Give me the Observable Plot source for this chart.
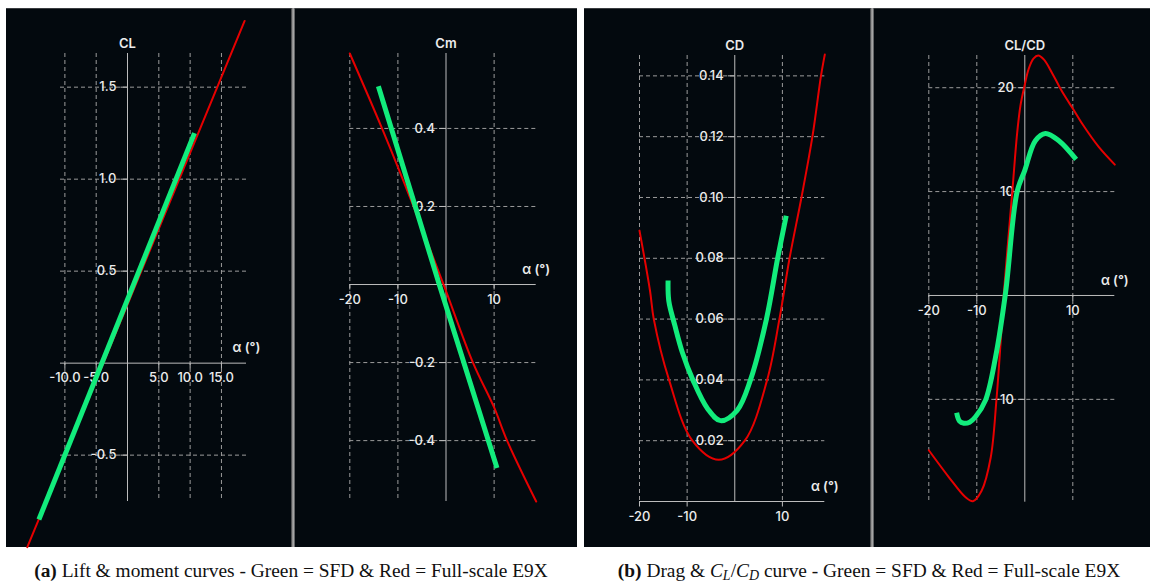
<!DOCTYPE html>
<html>
<head>
<meta charset="utf-8">
<script src="https://cdn.jsdelivr.net/npm/d3@7"></script>
<script src="https://cdn.jsdelivr.net/npm/@observablehq/plot@0.6"></script>
<style>
  html, body { margin: 0; padding: 0; background: #ffffff; }
  #page { position: relative; width: 1150px; height: 582px; overflow: hidden; background: #fff; }
  .panel { position: absolute; background: #03090e; border-top: 1px solid #3a3d40; box-sizing: border-box; }
  .divider { position: absolute; width: 4px; background: linear-gradient(to right, #2a2d30, #8c8c8c, #a8a8a8, #3a3d40); }
  .sub { position: absolute; }
  .sub svg { overflow: visible; }
  .caption { position: absolute; top: 560px; line-height: 22px; font-family: "Liberation Serif", "DejaVu Serif", serif; font-size: 19.4px; color: #111; white-space: nowrap; transform: translateX(-50%); }
  .caption .sb { font-size: 0.72em; vertical-align: -0.22em; line-height: 14px; }
</style>
</head>
<body>
<div id="page">
  <div class="panel" style="left:6px; top:8px; width:571px; height:539px;"></div>
  <div class="panel" style="left:584px; top:8px; width:566px; height:539px;"></div>
  <div class="divider" style="left:291px; top:8px; height:539px;"></div>
  <div class="divider" style="left:870px; top:8px; height:539px;"></div>
  <div class="sub" id="s1" style="left:6px; top:8px;"></div>
  <div class="sub" id="s2" style="left:295px; top:8px;"></div>
  <div class="sub" id="s3" style="left:584px; top:8px;"></div>
  <div class="sub" id="s4" style="left:874px; top:8px;"></div>
  <div class="caption" style="left:291px;"><b>(a)</b> Lift &amp; moment curves - Green = SFD &amp; Red = Full-scale E9X</div>
  <div class="caption" style="left:869px;"><b>(b)</b> Drag &amp; <i>C<span class="sb">L</span></i>/<i>C<span class="sb">D</span></i> curve - Green = SFD &amp; Red = Full-scale E9X</div>
</div>
<script>
// ---------- DATA ----------
// Lift coefficient CL vs angle of attack (deg)
const clRedAlpha   = [-16.0, 18.7];
const clRedValue   = [-1.0, 1.86];
const clGreenAlpha = [-14.15, 10.7];
const clGreenValue = [-0.85, 1.25];
const clXTicks = [-10, -5, 5, 10, 15];
const clYTicks = [-0.5, 0.5, 1.0, 1.5];

// Moment coefficient Cm
const cmRedAlpha   = [-20, -13.3, -6.75, -0.5, 5.6, 10, 12.7, 18.75];
const cmRedValue   = [0.592, 0.40, 0.20, 0.0, -0.20, -0.315, -0.40, -0.556];
const cmGreenAlpha = [-14.06, -1.4, 10.6];
const cmGreenValue = [0.508, 0.0, -0.47];
const cmXTicks = [-20, -10, 10];
const cmYTicks = [-0.4, -0.2, 0.2, 0.4];

// Drag coefficient CD
const cdRedAlpha   = [-20, -17.8, -17.0, -13.8, -8.9, -3.35, 2.1, 6.8, 9.37, 11.5, 14.0, 16.3, 18.1, 18.9];
const cdRedValue   = [0.0891, 0.0694, 0.06, 0.04, 0.02, 0.0137, 0.02, 0.04, 0.06, 0.08, 0.10, 0.12, 0.14, 0.147];
const cdGreenAlpha = [-14.0, -13.85, -12.6, -11.0, -8.8, -5.7, -3.0, 0.5, 3.3, 6.65, 9.0, 10.8];
const cdGreenValue = [0.0727, 0.066, 0.058, 0.049, 0.040, 0.0305, 0.0266, 0.030, 0.040, 0.060, 0.080, 0.094];
const cdXTicks = [-20, -10, 10];
const cdYTicks = [0.02, 0.04, 0.06, 0.08, 0.10, 0.12, 0.14];

// Lift-to-drag ratio CL/CD
const ldRedAlpha   = [-20, -15.8, -12.4, -10.8, -9.0, -7.1, -5.9, -5.06, -4.4, -2.6, -1.6, -0.9, 0, 0.8, 1.8, 2.8, 4.0, 5.7, 7.2, 8.6, 10, 12, 15.4, 18.75];
const ldRedValue   = [-14.9, -17.5, -19.4, -19.8, -18.8, -15.6, -10, -4.66, 0, 10, 15.6, 18.3, 20.3, 21.8, 22.8, 23.1, 22.7, 21.4, 20.1, 19.0, 18.0, 16.5, 14.3, 12.6];
const ldGreenAlpha = [-14.2, -13.6, -12.7, -11.5, -10.3, -8.2, -6.1, -4.0, -1.6, 0, 2.2, 4.3, 7.1, 10.7];
const ldGreenValue = [-11.3, -12.1, -12.3, -12.2, -11.7, -10.1, -5.95, 0.3, 10, 12.05, 14.9, 15.6, 14.9, 13.1];
const ldXTicks = [-20, -10, 10];
const ldYTicks = [-10, 10, 20];

const xLabel = "α (°)";

// ---------- STYLE ----------
const RED = "#e60000";
const GREEN = "#12ec7c";
const GRID = "#9c9c9c";
const AXIS = "#bdbdbd";
const LABEL = "#ececec";
const FONT = "Inter, 'Noto Sans', sans-serif";

const rows = (xs, ys) => xs.map((a, i) => ({a, v: ys[i]}));

function chart(cfg) {
  const {width, height, ml, mr, mt, mb, xDomain, yDomain, xTicks, yTicks, xFmt, yFmt, title,
         red, green, redCurve = "catmull-rom", greenCurve = "catmull-rom"} = cfg;
  const ky = (yDomain[1] - yDomain[0]) / (height - mt - mb);
  const kx = (xDomain[1] - xDomain[0]) / (width - ml - mr);
  return Plot.plot({
    width, height,
    marginLeft: ml, marginRight: mr, marginTop: mt, marginBottom: mb,
    x: {domain: xDomain, axis: null},
    y: {domain: yDomain, axis: null},
    style: {background: "transparent", fontFamily: FONT, fontSize: "13px", color: LABEL, overflow: "visible"},
    marks: [
      Plot.ruleX(xTicks, {stroke: GRID, strokeWidth: 1, strokeDasharray: "4,3"}),
      Plot.ruleY(yTicks, {stroke: GRID, strokeWidth: 1, strokeDasharray: "4,3"}),
      Plot.ruleY([0], {stroke: AXIS, strokeWidth: 1}),
      Plot.ruleX([0], {stroke: AXIS, strokeWidth: 1}),
      Plot.link(xTicks, {x1: d => d, x2: d => d, y1: 0, y2: -5 * ky, stroke: AXIS}),
      Plot.link(yTicks, {y1: d => d, y2: d => d, x1: 0, x2: -7 * kx, stroke: AXIS}),
      Plot.text(xTicks, {x: d => d, y: 0, text: xFmt, dy: 15, fill: LABEL, fontWeight: 500}),
      Plot.text(yTicks, {x: 0, y: d => d, text: yFmt, textAnchor: "end", dx: -11, fill: LABEL, fontWeight: 500}),
      Plot.text([title], {x: 0, y: yDomain[1], text: d => d, dy: -10, fill: LABEL, fontSize: 13, fontWeight: 600}),
      Plot.text([xLabel], {x: xDomain[1], y: 0, text: d => d, dy: -15, fill: LABEL, fontSize: 13, fontWeight: 600}),
      Plot.line(red, {x: "a", y: "v", stroke: RED, strokeWidth: 2, curve: redCurve}),
      Plot.line(green, {x: "a", y: "v", stroke: GREEN, strokeWidth: 5, curve: greenCurve, strokeLinecap: "butt"})
    ]
  });
}

document.getElementById("s1").append(chart({
  width: 285, height: 539, ml: 54, mr: 45, mt: 45, mb: 46,
  xDomain: [-10.7, 19.0], yDomain: [-0.752, 1.683],
  xTicks: clXTicks, yTicks: clYTicks,
  xFmt: d => d.toFixed(1), yFmt: d => d.toFixed(1), title: "CL",
  red: rows(clRedAlpha, clRedValue), green: rows(clGreenAlpha, clGreenValue),
  redCurve: "linear", greenCurve: "linear"
}));

document.getElementById("s2").append(chart({
  width: 282, height: 539, ml: 54.3, mr: 41.3, mt: 45, mb: 46,
  xDomain: [-20, 18.75], yDomain: [-0.556, 0.592],
  xTicks: cmXTicks, yTicks: cmYTicks,
  xFmt: d => String(d), yFmt: d => d.toFixed(1), title: "Cm",
  red: rows(cmRedAlpha, cmRedValue), green: rows(cmGreenAlpha, cmGreenValue),
  redCurve: "catmull-rom", greenCurve: "linear"
}));

document.getElementById("s3").append(chart({
  width: 286, height: 539, ml: 55, mr: 45.7, mt: 47, mb: 46,
  xDomain: [-20, 18.9], yDomain: [0, 0.1467],
  xTicks: cdXTicks, yTicks: cdYTicks,
  xFmt: d => String(d), yFmt: d => d.toFixed(2), title: "CD",
  red: rows(cdRedAlpha, cdRedValue), green: rows(cdGreenAlpha, cdGreenValue)
}));

document.getElementById("s4").append(chart({
  width: 276, height: 539, ml: 54.3, mr: 35.7, mt: 47, mb: 45.3,
  xDomain: [-20, 18.75], yDomain: [-19.9, 23.1],
  xTicks: ldXTicks, yTicks: ldYTicks,
  xFmt: d => String(d), yFmt: d => String(d), title: "CL/CD",
  red: rows(ldRedAlpha, ldRedValue), green: rows(ldGreenAlpha, ldGreenValue)
}));
</script>
</body>
</html>
